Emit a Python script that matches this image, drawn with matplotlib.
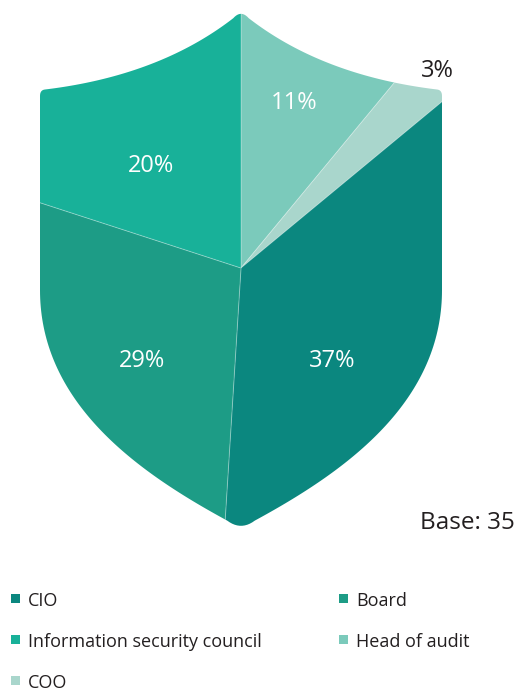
import matplotlib
matplotlib.use("Agg")
import matplotlib.pyplot as plt
import numpy as np
from matplotlib.path import Path
from matplotlib.patches import PathPatch, Rectangle

plt.rcParams['font.family'] = ['Open Sans', 'DejaVu Sans']

# slices clockwise from 12 o'clock
slices = ['Head of audit', 'COO', 'CIO', 'Board', 'Information security council']
shares = [11, 3, 37, 29, 20]
slice_colors = ['#7BCABB', '#A9D6CC', '#0B877F', '#1D9C86', '#18B199']

# legend order (row by row)
legend_names = ['CIO', 'Board', 'Information security council', 'Head of audit', 'COO']
base_n = 35

W, H = 517, 691
CX, CY = 241, 268          # pie centre in pixels (y down)


def py(y):
    return H - y


def quad(p0, p1, p2, n=60, t0=0.0, t1=1.0):
    t = np.linspace(t0, t1, n)[:, None]
    return (1 - t) ** 2 * p0 + 2 * (1 - t) * t * p1 + t ** 2 * p2


def cubic(p0, p1, p2, p3, n=80, t0=0.0, t1=1.0):
    t = np.linspace(t0, t1, n)[:, None]
    return ((1 - t) ** 3 * p0 + 3 * (1 - t) ** 2 * t * p1
            + 3 * (1 - t) * t ** 2 * p2 + t ** 3 * p3)


def mirror(p):
    return np.array([2 * CX - p[0], p[1]])


def shield_path():
    a = np.array
    top = quad(a([241, 12]), a([165, 75]), a([45, 89.5]), t0=0.05)
    corner = quad(a([45, 89.5]), a([40, 90]), a([40, 96]), 10)
    side = cubic(a([40, 96]), a([40, 200]), a([40, 200]), a([40, 290]), 20)
    bottom = cubic(a([40, 290]), a([40, 410]), a([150, 480]), a([241, 528]), t1=0.95)
    left = np.vstack([top, corner, side, bottom])
    right = left[::-1].copy()
    right[:, 0] = 2 * CX - right[:, 0]
    # rounded tips at the bottom and top
    low_tip = quad(left[-1], a([241, 531]), mirror(left[-1]), 12)
    high_tip = quad(right[-1], a([241, 9.5]), left[0], 12)
    pts = np.vstack([left, low_tip, right, high_tip])
    pts[:, 1] = H - pts[:, 1]
    return Path(pts, closed=True)


fig = plt.figure(figsize=(W / 100, H / 100), dpi=100)
ax = fig.add_axes([0, 0, 1, 1])

wedges, _, pct = ax.pie(shares, colors=slice_colors, startangle=90, counterclock=False,
                        center=(CX, py(CY)), radius=330, autopct='%d%%',
                        wedgeprops=dict(edgecolor=(1, 1, 1, 0.25), linewidth=0.7),
                        textprops=dict(color='white', fontsize=17))

ax.set_xlim(0, W)
ax.set_ylim(0, H)
ax.set_aspect('auto')
ax.axis('off')

shield = PathPatch(shield_path(), transform=ax.transData, facecolor='none', edgecolor='none')
ax.add_patch(shield)
for w in wedges:
    w.set_clip_on(True)
    w.set_clip_path(shield)

# percentage labels (baseline positions in pixels)
label_pos = [(294, 109), (437, 77), (332, 367), (142, 367), (151, 172)]
for t, (x, y) in zip(pct, label_pos):
    t.set_position((x, py(y)))
    t.set_ha('center')
    t.set_va('baseline')
pct[1].set_color('#231F20')

ax.text(515, py(529), f'Base: {base_n}', ha='right', va='baseline',
        fontsize=17.5, color='#231F20')

# legend, two columns
leg_x = [11, 339]
leg_y = [606, 647, 688]
for i, name in enumerate(legend_names):
    x = leg_x[i % 2]
    y = leg_y[i // 2]
    c = slice_colors[slices.index(name)]
    ax.add_patch(Rectangle((x, py(y - 3)), 9, 9, facecolor=c, edgecolor='none'))
    ax.text(x + 17, py(y), name, ha='left', va='baseline', fontsize=13, color='#231F20')

fig.savefig('out.png', dpi=100)
